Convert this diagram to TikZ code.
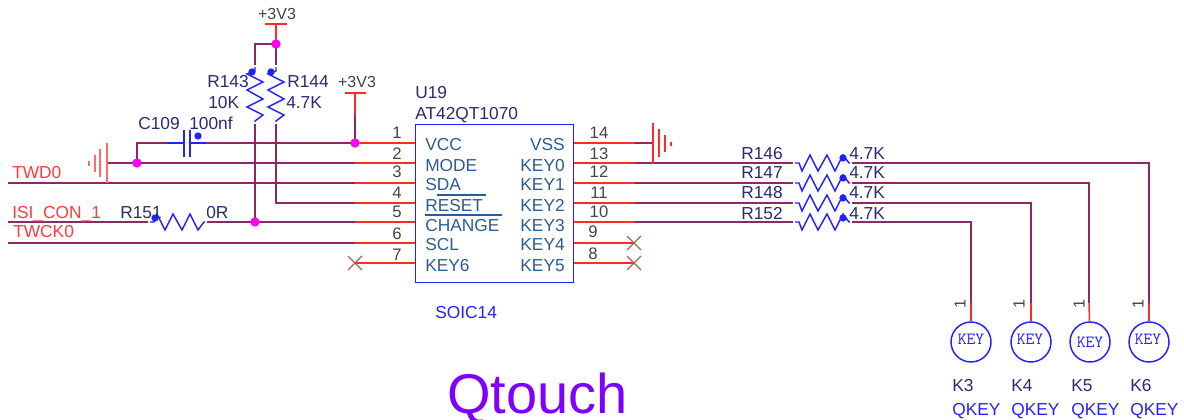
\documentclass[tikz,border=0pt]{standalone}
\usepackage{fontspec}
\setmainfont{Liberation Sans}
\definecolor{wirec}{HTML}{8A2A62}
\definecolor{redc}{HTML}{FF2A2A}
\definecolor{bluec}{HTML}{2222FF}
\definecolor{navyc}{HTML}{2A2A70}
\definecolor{pinc}{HTML}{2C5C94}
\definecolor{greyc}{HTML}{444444}
\definecolor{crossc}{HTML}{9A6A50}
\definecolor{netc}{HTML}{FF3A3A}
\definecolor{magc}{HTML}{FF00F0}
\definecolor{titlec}{HTML}{7F00FF}
\tikzset{
  wire/.style={draw=wirec,line width=1.1pt},
  redw/.style={draw=redc,line width=1.1pt},
  bluew/.style={draw=bluec,line width=1.1pt,line join=miter},
  plate/.style={draw=redc!70!white,line width=1pt},
  txt/.style={inner sep=0pt,font=\fontsize{13}{15}\selectfont},
  refl/.style={txt,anchor=base west,text=navyc},
  refr/.style={txt,anchor=base east,text=navyc},
  netl/.style={txt,anchor=base west,text=netc},
  pinl/.style={txt,anchor=base west,text=pinc},
  pinr/.style={txt,anchor=base east,text=pinc},
  num/.style={txt,anchor=base,text=greyc,font=\fontsize{12.5}{15}\selectfont},
  pwr/.style={txt,anchor=base,text=greyc,font=\fontsize{12}{15}\selectfont},
  qk/.style={txt,anchor=base west,text=bluec},
  jdot/.style={circle,fill=magc,inner sep=0pt,minimum size=7pt},
  bdot/.style={circle,fill=bluec,inner sep=0pt,minimum size=5.5pt},
  keyc/.style={circle,draw=bluec,line width=1.1pt,minimum size=30pt,inner sep=0pt},
  keyt/.style={text=bluec,inner sep=0pt,font=\ttfamily\fontsize{12.8}{14}\selectfont},
  pin1/.style={txt,rotate=90,text=greyc,font=\fontsize{12}{14}\selectfont},
  hres/.pic={
    \coordinate (-l) at (0,0);
    \coordinate (-r) at (59,0);
    \draw[bluew] (2,0) -- (6,0) -- (9,8) -- (17,-8) -- (25,8) -- (34,-8) -- (42,8) -- (50,-8) -- (56,0) -- (57,0);
  },
  xmark/.pic={
    \draw[draw=crossc,line width=0.9pt] (-7,-7) -- (7,7) (-7,7) -- (7,-7);
  },
}
\begin{document}
\begin{tikzpicture}[x=0.75pt,y=-0.75pt]
\useasboundingbox (0,0) rectangle (1184,420);
% --- IC
\node[draw=bluec,line width=1.1pt,minimum width=118.5pt,minimum height=118.5pt,inner sep=0pt,anchor=north west] (ic) at (415,124) {};
% --- coordinates
\foreach \n/\y in {1/143,2/163,3/183,4/203,5/222,6/243,7/263}{
  \coordinate (L\n) at (415,\y);
  \coordinate (LR\n) at (355,\y);
}
\foreach \n/\y in {14/143,13/163,12/183,11/203,10/222,9/243,8/263}{
  \coordinate (R\n) at (574,\y);
  \coordinate (RR\n) at (635,\y);
}
\coordinate (wd) at (8,183);
\coordinate (isi) at (8,222);
\coordinate (ck) at (8,243);
\coordinate (vtop) at (276,24);
\coordinate (vtopd) at (276,44);
\coordinate (v2) at (355,93);
\coordinate (v2m) at (355,115);
\coordinate (j3) at (255,222);
\coordinate (nr4) at (276,203);
\coordinate (gL) at (107,163);
\coordinate (gR) at (653,143);
% --- resistors
\pic (r143) at (255,65) [rotate=-90] {hres};
\pic (r144) at (276,65) [rotate=-90] {hres};
\pic (r151) at (148,222) [yscale=-1] {hres};
\pic (r146) at (793,163) {hres};
\pic (r147) at (793,183) {hres};
\pic (r148) at (793,203) {hres};
\pic (r152) at (793,222) {hres};
% --- keys
\node[keyc] (k3) at (971,342) {};
\node[keyc] (k4) at (1031,342) {};
\node[keyc] (k5) at (1090,342) {};
\node[keyc] (k6) at (1149,342) {};
\coordinate (k3r) at (971,303);
\coordinate (k4r) at (1031,303);
\coordinate (k5r) at (1089,303);
\coordinate (k6r) at (1149,303);
% --- wires
\draw[wire] (wd) -- (LR3);
\draw[wire] (ck) -- (LR6);
\draw[wire] (isi) -- (r151-l);
\draw[wire] (r151-r) -- (LR5);
\draw[wire] (r143-r) -- (j3);
\draw[wire] (r144-r) -- (nr4) -- (LR4);
\draw[wire] (vtopd) -| (r143-l);
\draw[wire] (vtopd) -- (r144-l);
\draw[redw] (vtop) -- (vtopd);
\draw[wire] (gL) -- (LR2);
\coordinate (c1a) at (137,143);
\coordinate (c1b) at (137,163);
\coordinate (c2) at (206,143);
\coordinate (c1) at (167,143);
\draw[wire] (c1b) -- (c1a) -- (c1);
\draw[wire] (c2) -- (LR1);
\draw[wire] (v2m) -- (LR1);
\draw[redw] (v2) -- (v2m);
\foreach \n in {1,...,6}{\draw[redw] (LR\n) -- (L\n);}
\draw[redw] (LR7) -- (L7);
\foreach \n in {14,...,8}{\draw[redw] (R\n) -- (RR\n);}
\draw[wire] (RR14) -- (gR);
\draw[wire] (RR13) -- (r146-l);
\draw[wire] (RR12) -- (r147-l);
\draw[wire] (RR11) -- (r148-l);
\draw[wire] (RR10) -- (r152-l);
\draw[wire] (r146-r) -| (k6r);
\draw[wire] (r147-r) -| (k5r);
\draw[wire] (r148-r) -| (k4r);
\draw[wire] (r152-r) -| (k3r);
\draw[redw] (k3r) -- (k3);
\draw[redw] (k4r) -- (k4);
\draw[redw] (k5r) -- (k5);
\draw[redw] (k6r) -- (k6);
% --- capacitor
\draw[bluew] (c1) -- (183,143) (184,130) -- (184,157) (190,130) -- (190,157) (190,143) -- (c2);
% --- power bars
\draw[redw] (265,24) -- (287,24);
\draw[redw] (345,93) -- (366,93);
% --- grounds
\draw[plate] (107,143) -- (107,183) (100,149) -- (100,177) (95,155) -- (95,172) (89,161) -- (89,166);
\draw[redw] (653,123) -- (653,164) (659,129) -- (659,157) (665,135) -- (665,152) (671,142) -- (671,146);
% --- crosses
\pic at (355,263) {xmark};
\pic at (634,243) {xmark};
\pic at (634,263) {xmark};
% --- dots
\node[jdot] (d1) at (276,44) {};
\node[jdot] (d2) at (355,143) {};
\node[jdot] (d3) at (137,163) {};
\node[jdot] (d4) at (255,222) {};
\node[bdot] (b1) at (198,136) {};
\node[bdot] (b2) at (252,72) {};
\node[bdot] (b3) at (271,72) {};
\node[bdot] (b4) at (155,218) {};
\node[bdot] (b5) at (843,158) {};
\node[bdot] (b6) at (843,178) {};
\node[bdot] (b7) at (843,198) {};
\node[bdot] (b8) at (843,218) {};
% --- texts
\node[pwr] (t1) at (277,20) {+3V3};
\node[pwr] (t2) at (357,88) {+3V3};
\node[refl] (t3) at (207,88) {R143};
\node[refl] (t4) at (208,109) {10K};
\node[refl] (t5) at (287,88) {R144};
\node[refl] (t6) at (286,109) {4.7K};
\node[refl] (t7) at (138,130) {C109};
\node[refl] (t8) at (189,130) {100nf};
\node[netl] (t9) at (12,179) {TWD0};
\node[netl] (t10) at (12,219) {ISI\_CON\_1};
\node[netl] (t11) at (13,238) {TWCK0};
\node[refl] (t12) at (120,219) {R151};
\node[refl] (t13) at (206,219) {0R};
\node[refl] (t14) at (415,99) {U19};
\node[refl] (t15) at (415,120) {AT42QT1070};
\foreach \n/\y in {1/139,2/160,3/178,4/199,5/218,6/239,7/260}{
  \node[num] (nl\n) at (397,\y) {\n};
}
\foreach \n/\x/\y in {14/599/139,13/599/160,12/599/178,11/599/199,10/599/218,9/593/238,8/593/259}{
  \node[num] (nr\n) at (\x,\y) {\n};
}
\node[pinl] (p1) at (425,151) {VCC};
\node[pinl] (p2) at (425,172) {MODE};
\node[pinl] (p3) at (425,191) {SDA};
\node[pinl] (p4) at (425,212) {RESET};
\node[pinl] (p5) at (425,232) {CHANGE};
\node[pinl] (p6) at (425,251) {SCL};
\node[pinl] (p7) at (425,272) {KEY6};
\node[pinr] (p14) at (565,151) {VSS};
\node[pinr] (p13) at (565,172) {KEY0};
\node[pinr] (p12) at (565,191) {KEY1};
\node[pinr] (p11) at (565,212) {KEY2};
\node[pinr] (p10) at (565,232) {KEY3};
\node[pinr] (p9) at (565,251) {KEY4};
\node[pinr] (p8) at (565,272) {KEY5};
\draw[draw=pinc,line width=1pt] (437,195) -- (486,195) (425,215) -- (502,215);
\node[qk] (t16) at (435,318) {SOIC14};
\foreach \l/\y in {R146/160,R147/179,R148/199,R152/220}{
  \node[refl] (lab\l) at (741,\y) {\l};
  \node[refl] (val\l) at (849,\y) {4.7K};
}
\foreach \x/\k in {960/a,1019/b,1079/c,1138/d}{
  \node[pin1] (one\k) at (\x,304) {1};
}
\node[keyt] (kt3) at (971,339) {KEY};
\node[keyt] (kt4) at (1030,339) {KEY};
\node[keyt] (kt5) at (1090,342) {KEY};
\node[keyt] (kt6) at (1148,339) {KEY};
\foreach \x/\k in {952/K3,1011/K4,1071/K5,1130/K6}{
  \node[refl] (n\k) at (\x,391) {\k};
  \node[qk] (q\k) at (\x,415) {QKEY};
}
\node[inner sep=0pt,anchor=base west,text=titlec,font=\fontsize{42}{48}\selectfont] (title) at (447,413) {Qtouch};
\end{tikzpicture}
\end{document}
